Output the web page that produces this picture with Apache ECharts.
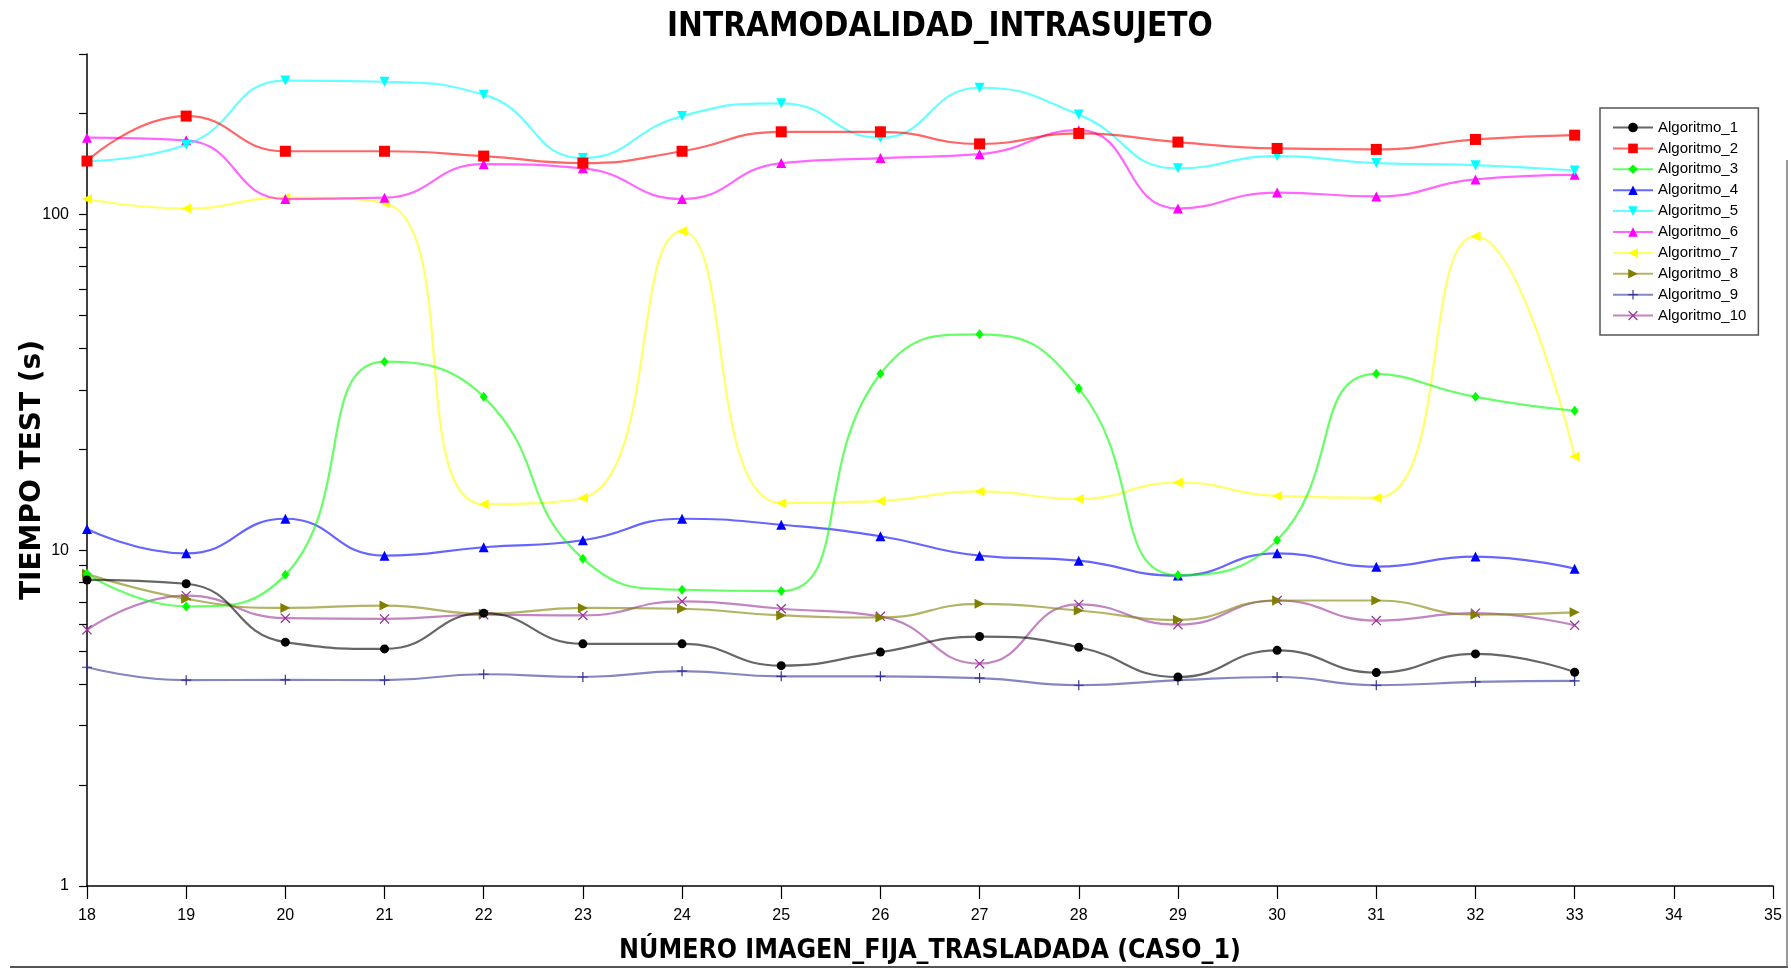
<!DOCTYPE html>
<html>
<head>
<meta charset="utf-8">
<script src="https://cdn.jsdelivr.net/npm/echarts@6/dist/echarts.min.js"></script>
<style>
html,body{margin:0;padding:0;background:#fff;}
#c{width:1791px;height:970px;}
</style>
</head>
<body>
<div id="c"></div>
<script>
const categories = [18,19,20,21,22,23,24,25,26,27,28,29,30,31,32,33];
const seriesNames = ['Algoritmo_1','Algoritmo_2','Algoritmo_3','Algoritmo_4','Algoritmo_5','Algoritmo_6','Algoritmo_7','Algoritmo_8','Algoritmo_9','Algoritmo_10'];
const alg1  = [8.15,7.94,5.32,5.08,6.49,5.26,5.26,4.53,4.97,5.53,5.14,4.19,5.03,4.32,4.91,4.33];
const alg2  = [144,196,154,154,149,142,154,176,176,162,174,164,157,156,167,172];
const alg3  = [8.5,6.8,8.44,36.4,28.6,9.43,7.62,7.55,33.5,43.9,30.3,8.42,10.7,33.5,28.6,26.0];
const alg4  = [11.56,9.78,12.4,9.63,10.2,10.7,12.4,11.9,11.0,9.63,9.30,8.40,9.78,8.93,9.57,8.80];
const alg5  = [144,161,250,248,227,147,196,214,169,238,198,137,149,142,140,135];
const alg6  = [169,166,111,112,141,137,111,142,147,151,178,104,116,113,127,131];
const alg7  = [111,104,112,108,13.7,14.3,89.0,13.8,14.0,14.95,14.2,15.9,14.5,14.3,86.0,19.0];
const alg8  = [8.5,7.16,6.73,6.84,6.46,6.73,6.69,6.39,6.3,6.92,6.61,6.20,7.08,7.08,6.42,6.53];
const alg9  = [4.48,4.10,4.11,4.10,4.27,4.19,4.36,4.21,4.21,4.16,3.96,4.10,4.19,3.96,4.05,4.08];
const alg10 = [5.79,7.32,6.27,6.24,6.42,6.39,7.04,6.69,6.35,4.59,6.89,6.00,7.08,6.17,6.49,5.97];
const yTickValues = [1,2,3,4,5,6,7,8,9,10,20,30,40,50,60,70,80,90,100,200,300];
const yLabelValues = [1,10,100];

const allData = [alg1,alg2,alg3,alg4,alg5,alg6,alg7,alg8,alg9,alg10];
const colors = ['#000000','#ff0000','#00ff00','#0000ff','#00ffff','#ff00ff','#ffff00','#808000','#333399','#993399'];
const plusPath = 'path://M0,4.4L10,4.4L10,5.6L0,5.6Z M4.4,0L5.6,0L5.6,10L4.4,10Z';
const crossPath = 'path://M0,0.9L0.9,0L10,9.1L9.1,10Z M9.1,0L10,0.9L0.9,10L0,9.1Z';
const symbols = [
  {s:'circle',size:9,rot:0},
  {s:'rect',size:11,rot:0},
  {s:'diamond',size:[8,10],rot:0},
  {s:'triangle',size:10,rot:0},
  {s:'triangle',size:10,rot:180},
  {s:'triangle',size:10,rot:0},
  {s:'triangle',size:10,rot:90},
  {s:'triangle',size:10,rot:-90},
  {s:plusPath,size:10,rot:0},
  {s:crossPath,size:10,rot:0}
];

const series = seriesNames.map((name,i)=>({
  name: name,
  type: 'line',
  smooth: 0.5,
  data: categories.map((c,j)=>[c, allData[i][j]]),
  symbol: symbols[i].s,
  symbolSize: symbols[i].size,
  symbolRotate: symbols[i].rot,
  showAllSymbol: true,
  z: 2 + (10 - i) * 0.01,
  itemStyle: {color: colors[i], opacity: 1},
  lineStyle: {color: colors[i], width: 2.2, opacity: 0.6},
  emphasis: {disabled: true},
  animation: false
}));

const chart = echarts.init(document.getElementById('c'), null, {renderer:'canvas'});
chart.setOption({
  backgroundColor: '#ffffff',
  animation: false,
  title: {
    text: 'INTRAMODALIDAD_INTRASUJETO',
    left: 662,
    top: 6,
    textStyle: {fontFamily: "'Liberation Sans Narrow','DejaVu Sans Condensed',sans-serif", fontWeight: 'bold', fontSize: 33, color: '#000'}
  },
  legend: {
    orient: 'vertical',
    left: 1600,
    top: 108,
    padding: [12, 12, 12, 12],
    itemGap: 5.9,
    itemWidth: 40,
    itemHeight: 12,
    backgroundColor: '#fff',
    borderColor: '#555',
    borderWidth: 1.5,
    textStyle: {fontFamily: "'Liberation Sans Narrow','Liberation Sans',sans-serif", fontSize: 15, color: '#000'},
    data: seriesNames
  },
  grid: {left: 87, right: 18, top: 54, bottom: 84, containLabel: false},
  xAxis: {
    type: 'value',
    min: 18, max: 35, interval: 1,
    name: 'NÚMERO IMAGEN_FIJA_TRASLADADA (CASO_1)',
    nameLocation: 'middle',
    nameGap: 52,
    nameMoveOverlap: false,
    nameTextStyle: {fontFamily: "'Liberation Sans Narrow','DejaVu Sans Condensed',sans-serif", fontWeight: 'bold', fontSize: 26.5, color: '#000'},
    axisLine: {show: true, lineStyle: {color: '#000', width: 1.5}},
    axisTick: {show: true, inside: false, length: 13, lineStyle: {color: '#000', width: 1.2}},
    axisLabel: {fontFamily: "'Liberation Sans Narrow',sans-serif", fontSize: 16, color: '#000', margin: 22},
    splitLine: {show: false}
  },
  yAxis: {
    type: 'log',
    logBase: 10,
    min: 1, max: 300,
    name: 'TIEMPO TEST (s)',
    nameLocation: 'middle',
    nameGap: 40,
    nameMoveOverlap: false,
    nameRotate: 90,
    nameTextStyle: {fontFamily: "'DejaVu Sans',sans-serif", fontWeight: 'bold', fontSize: 28, color: '#000'},
    axisLine: {show: true, lineStyle: {color: '#000', width: 1.5}},
    axisTick: {show: true, length: 8, customValues: yTickValues, lineStyle: {color: '#000', width: 1.2}},
    axisLabel: {fontFamily: "'Liberation Sans Narrow',sans-serif", fontSize: 16, color: '#000', margin: 18, customValues: yLabelValues},
    splitLine: {show: false},
    minorTick: {show: false}
  },
  graphic: [
    {type: 'line', shape: {x1: 10, y1: 967, x2: 1788, y2: 967}, style: {stroke: '#555', lineWidth: 2}, silent: true},
    {type: 'line', shape: {x1: 1787, y1: 160, x2: 1787, y2: 967}, style: {stroke: '#777', lineWidth: 1.5}, silent: true}
  ],
  series: series
});
</script>
</body>
</html>
